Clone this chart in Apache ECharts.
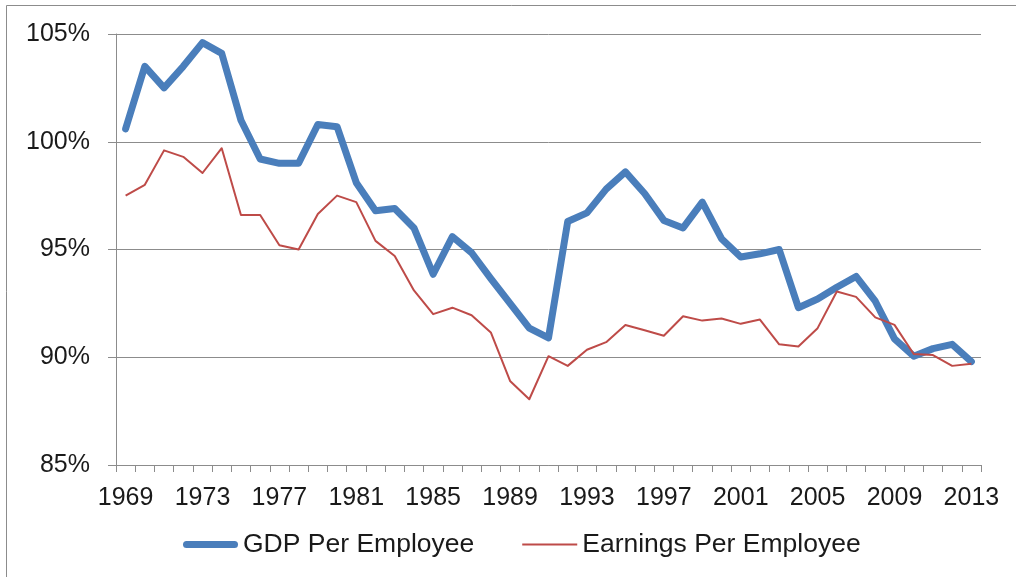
<!DOCTYPE html>
<html>
<head>
<meta charset="utf-8">
<script src="https://cdn.jsdelivr.net/npm/echarts@6/dist/echarts.min.js"></script>
<style>
html,body{margin:0;padding:0;background:#fff;}
#chart{width:1016px;height:577px;}
</style>
</head>
<body>
<div id="chart"></div>
<script>
const years = [];
for (let y = 1969; y <= 2013; y++) years.push(String(y));

const gdpPerEmployee = [
  100.6, 103.5, 102.5, 103.5, 104.6, 104.1, 101.0, 99.2, 99.0, 99.0,
  100.8, 100.7, 98.1, 96.8, 96.9, 96.0, 93.85, 95.6, 94.85, 93.65,
  92.5, 91.35, 90.9, 96.3, 96.7, 97.8, 98.6, 97.6, 96.35, 96.0,
  97.2, 95.5, 94.65, 94.8, 95.0, 92.3, 92.7, 93.25, 93.75, 92.6,
  90.85, 90.05, 90.4, 90.6, 89.8
];

const earningsPerEmployee = [
  97.5, 98.0, 99.6, 99.3, 98.55, 99.7, 96.6, 96.6, 95.2, 95.0,
  96.65, 97.5, 97.2, 95.4, 94.7, 93.1, 92.0, 92.3, 91.95, 91.15,
  88.9, 88.05, 90.05, 89.6, 90.35, 90.7, 91.5, 91.25, 91.0, 91.9,
  91.7, 91.8, 91.55, 91.75, 90.6, 90.5, 91.35, 93.05, 92.8, 91.85,
  91.5, 90.15, 90.1, 89.6, 89.7
];

const yTicks = [85, 90, 95, 100, 105];

const FONT = '"Liberation Sans", Arial, sans-serif';
const chart = echarts.init(document.getElementById('chart'), null, {renderer: 'canvas'});

chart.setOption({
  animation: false,
  backgroundColor: '#ffffff',
  graphic: [{
    type: 'rect',
    shape: {x: 6.5, y: 5.5, width: 1200, height: 800},
    style: {fill: 'none', stroke: '#8c8c8c', lineWidth: 1},
    silent: true
  }],
  grid: {left: 116, right: 35, top: 34, bottom: 112, containLabel: false},
  xAxis: {
    type: 'category',
    data: years,
    boundaryGap: true,
    axisLine: {lineStyle: {color: '#8c8c8c', width: 1}},
    axisTick: {show: true, interval: 0, length: 7, lineStyle: {color: '#8c8c8c'}},
    axisLabel: {interval: 3, margin: 21, fontSize: 25, fontFamily: FONT, color: '#1a1a1a'},
    splitLine: {show: false}
  },
  yAxis: {
    type: 'value',
    min: yTicks[0],
    max: yTicks[yTicks.length - 1],
    interval: 5,
    axisLine: {show: true, lineStyle: {color: '#8c8c8c', width: 1}},
    axisTick: {show: true, length: 8, lineStyle: {color: '#8c8c8c'}},
    axisLabel: {formatter: '{value}%', margin: 26, fontSize: 25, fontFamily: FONT, color: '#1a1a1a'},
    splitLine: {show: true, lineStyle: {color: '#8c8c8c', width: 1}}
  },
  legend: {
    left: 183,
    top: 531,
    padding: 0,
    itemWidth: 55,
    itemHeight: 14,
    itemGap: 48,
    symbolKeepAspect: true,
    textStyle: {fontSize: 26.5, fontFamily: FONT, color: '#1a1a1a'},
    data: [
      {name: 'GDP Per Employee', icon: 'path://M3.5,0H51.5A3.5,3.5 0 0 1 51.5,7H3.5A3.5,3.5 0 0 1 3.5,0Z', itemStyle: {color: '#4A7EBB'}},
      {name: 'Earnings Per Employee', icon: 'path://M0,0H55V2H0Z', itemStyle: {color: '#BE4B48'}}
    ]
  },
  series: [
    {
      name: 'GDP Per Employee',
      type: 'line',
      data: gdpPerEmployee,
      symbol: 'none',
      lineStyle: {color: '#4A7EBB', width: 7, join: 'round', cap: 'round'},
      itemStyle: {color: '#4A7EBB'},
      z: 2
    },
    {
      name: 'Earnings Per Employee',
      type: 'line',
      data: earningsPerEmployee,
      symbol: 'none',
      lineStyle: {color: '#BE4B48', width: 2, join: 'round'},
      itemStyle: {color: '#BE4B48'},
      z: 3
    }
  ]
});
</script>
</body>
</html>
